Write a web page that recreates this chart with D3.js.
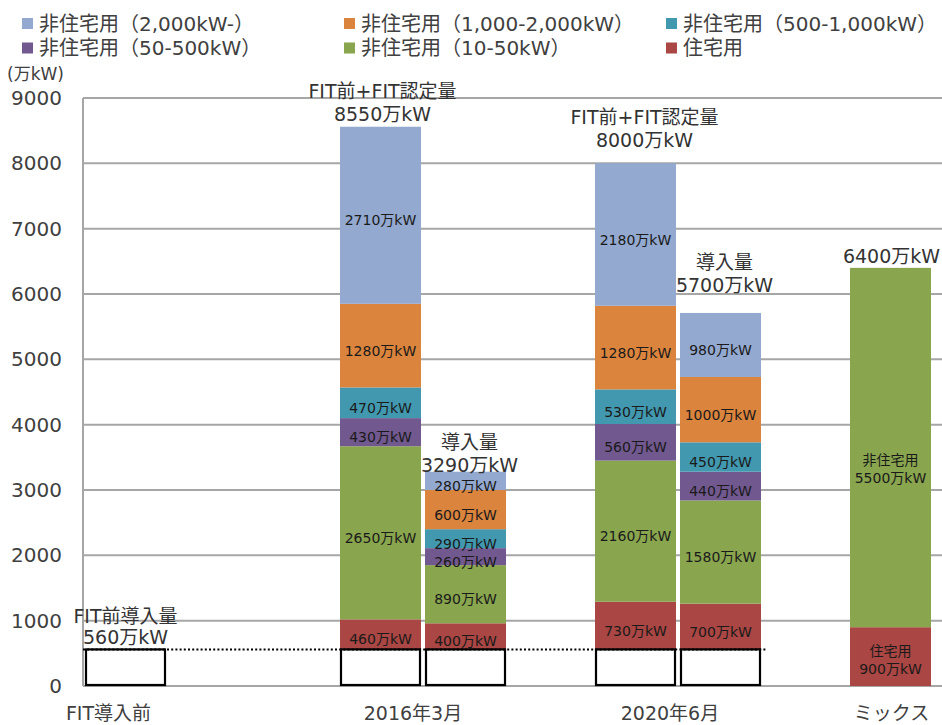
<!DOCTYPE html>
<html><head><meta charset="utf-8">
<script src="https://cdn.jsdelivr.net/npm/d3@7"></script>
<style>
html,body{margin:0;padding:0;background:#fff;}
svg{display:block;}
</style></head><body>
<svg id="chart" width="942" height="725"></svg>
<script>
// ---------------- data ----------------
const slots = ["FIT導入前","gapA","gapB","2016年3月 認定","2016年3月 導入","gapC","2020年6月 認定","2020年6月 導入","gapD","ミックス"];
const stackedBars = ["2016年3月 認定","2016年3月 導入","2020年6月 認定","2020年6月 導入"];
const preFitBars = ["FIT導入前","2016年3月 認定","2016年3月 導入","2020年6月 認定","2020年6月 導入"];
const preFitValue = 560;
const seriesNames = ["住宅用","非住宅用（10-50kW）","非住宅用（50-500kW）","非住宅用（500-1,000kW）","非住宅用（1,000-2,000kW）","非住宅用（2,000kW-）"];
const seriesColors = ["#AA4643","#89A54E","#71588F","#4198AF","#DB843D","#93A9CF"];
const residential      = [460, 400, 730, 700];
const nonRes10to50     = [2650, 890, 2160, 1580];
const nonRes50to500    = [430, 260, 560, 440];
const nonRes500to1000  = [470, 290, 530, 450];
const nonRes1000to2000 = [1280, 600, 1280, 1000];
const nonRes2000plus   = [2710, 280, 2180, 980];
const mixBar = "ミックス";
const mixNames  = ["住宅用","非住宅用"];
const mixValues = [900, 5500];
const totalLabelTop   = ["FIT前+FIT認定量","導入量","FIT前+FIT認定量","導入量"];
const totalLabelValue = ["8550万kW","3290万kW","8000万kW","5700万kW"];
const mixTotalLabel = "6400万kW";
const preFitLabel = ["FIT前導入量","560万kW"];
const categoryLabels = ["FIT導入前","2016年3月","2020年6月","ミックス"];
const categoryGroups = [["FIT導入前"],["2016年3月 認定","2016年3月 導入"],["2020年6月 認定","2020年6月 導入"],["ミックス"]];
const yTicks = [0,1000,2000,3000,4000,5000,6000,7000,8000,9000];
const yUnit = "(万kW)";
const legendOrder = [5,4,3,2,1,0];

// ---------------- layout ----------------
const FONT = '"DejaVu Sans","Noto Sans CJK JP",sans-serif';
const svg = d3.select("#chart").attr("font-family", FONT);
const plotLeft = 83, plotRight = 942;
const x = d3.scaleBand().domain(slots).range([85, 931]).paddingInner(4/85).paddingOuter(0);
const y = d3.scaleLinear().domain([0, 9000]).range([686, 98]);
const gridColor = "#A6A6A6";
const textColor = "#404040";

// gridlines
svg.append("g").selectAll("line").data(yTicks.filter(t => t > 0)).join("line")
  .attr("x1", plotLeft).attr("x2", plotRight)
  .attr("y1", d => y(d)).attr("y2", d => y(d))
  .attr("stroke", gridColor).attr("stroke-width", 2);

// y axis
const yAxis = svg.append("g").attr("transform", `translate(${plotLeft},0)`)
  .call(d3.axisLeft(y).tickValues(yTicks).tickSize(0).tickPadding(21).tickFormat(d3.format("d")));
yAxis.attr("font-family", FONT).attr("font-size", 20);
yAxis.select(".domain").remove();
yAxis.selectAll("text").attr("fill", textColor);
svg.append("line").attr("x1", plotLeft).attr("x2", plotLeft).attr("y1", y(9000)).attr("y2", y(0))
  .attr("stroke", gridColor).attr("stroke-width", 2);
svg.append("line").attr("x1", plotLeft).attr("x2", plotRight).attr("y1", y(0)).attr("y2", y(0))
  .attr("stroke", gridColor).attr("stroke-width", 2);

svg.append("text").attr("x", 7).attr("y", 74).attr("dominant-baseline", "central")
  .attr("font-size", 17).attr("fill", textColor).text(yUnit);

// stacked bars
const seriesValues = [residential, nonRes10to50, nonRes50to500, nonRes500to1000, nonRes1000to2000, nonRes2000plus];
const table = stackedBars.map((b, i) => {
  const row = {bar: b};
  seriesNames.forEach((s, j) => row[s] = seriesValues[j][i]);
  return row;
});
const stack = d3.stack().keys(seriesNames)(table);
const segs = [];
stack.forEach((layer, j) => layer.forEach(d => {
  segs.push({bar: d.data.bar, v0: d[0] + preFitValue, v1: d[1] + preFitValue,
             value: d.data[layer.key], color: seriesColors[j]});
}));
const mixTable = [{bar: mixBar}];
mixNames.forEach((n, j) => mixTable[0][n] = mixValues[j]);
const mixStack = d3.stack().keys(mixNames)(mixTable);
const mixSegs = mixStack.map((layer, j) => ({bar: mixBar, v0: layer[0][0], v1: layer[0][1],
  value: mixValues[j], name: mixNames[j], color: j === 0 ? seriesColors[0] : seriesColors[1]}));

svg.append("g").selectAll("rect").data(segs.concat(mixSegs)).join("rect")
  .attr("x", d => x(d.bar)).attr("width", x.bandwidth())
  .attr("y", d => y(d.v1)).attr("height", d => y(d.v0) - y(d.v1))
  .attr("fill", d => d.color);

// pre-FIT white boxes
svg.append("g").selectAll("rect").data(preFitBars).join("rect")
  .attr("x", d => x(d) + 1).attr("width", x.bandwidth() - 2)
  .attr("y", y(preFitValue)).attr("height", y(0) - y(preFitValue) - 1)
  .attr("fill", "#fff").attr("stroke", "#000").attr("stroke-width", 2.2);

// dotted line at pre-FIT level
svg.append("line").attr("x1", plotLeft).attr("x2", x("2020年6月 導入") + x.bandwidth() + 5)
  .attr("y1", y(preFitValue)).attr("y2", y(preFitValue))
  .attr("stroke", "#000").attr("stroke-width", 2).attr("stroke-dasharray", "2,2.2");

// segment labels
svg.append("g").selectAll("text").data(segs).join("text")
  .attr("x", d => x(d.bar) + x.bandwidth() / 2)
  .attr("y", d => (y(d.v0) + y(d.v1)) / 2 + 5)
  .attr("text-anchor", "middle").attr("dominant-baseline", "central")
  .attr("font-size", 14).attr("fill", "#1a1a1a")
  .text(d => `${d.value}万kW`);
const mixLabelDy = [-6, 12];
mixSegs.forEach((d, j) => {
  const cx = x(d.bar) + x.bandwidth() / 2;
  const cy = (y(d.v0) + y(d.v1)) / 2 + mixLabelDy[j];
  const t = svg.append("text").attr("text-anchor", "middle").attr("font-size", 14).attr("fill", "#1a1a1a");
  t.append("tspan").attr("x", cx).attr("y", cy).attr("dominant-baseline", "central").text(d.name);
  t.append("tspan").attr("x", cx).attr("y", cy + 18).attr("dominant-baseline", "central").text(`${d.value}万kW`);
});

// total labels
const barTotals = stackedBars.map((b, i) => preFitValue + seriesValues.reduce((s, arr) => s + arr[i], 0));
const totalDx = [2, 4, 9, 4];
const totalDy = [-13, -7, -23, -28];
stackedBars.forEach((b, i) => {
  const cx = x(b) + x.bandwidth() / 2 + totalDx[i];
  const cy = y(barTotals[i]) + totalDy[i];
  svg.append("text").attr("x", cx).attr("y", cy - 23).attr("text-anchor", "middle")
    .attr("dominant-baseline", "central").attr("font-size", 19).attr("fill", "#333").text(totalLabelTop[i]);
  svg.append("text").attr("x", cx).attr("y", cy).attr("text-anchor", "middle")
    .attr("dominant-baseline", "central").attr("font-size", 19).attr("fill", "#333").text(totalLabelValue[i]);
});
svg.append("text").attr("x", x(mixBar) + x.bandwidth() / 2 + 1)
  .attr("y", y(d3.sum(mixValues)) - 12).attr("text-anchor", "middle")
  .attr("dominant-baseline", "central").attr("font-size", 19).attr("fill", "#333").text(mixTotalLabel);

// pre-FIT label
const pfx = x("FIT導入前") + x.bandwidth() / 2;
svg.append("text").attr("x", pfx).attr("y", y(preFitValue) - 33).attr("text-anchor", "middle")
  .attr("dominant-baseline", "central").attr("font-size", 19).attr("fill", "#333").text(preFitLabel[0]);
svg.append("text").attr("x", pfx).attr("y", y(preFitValue) - 12).attr("text-anchor", "middle")
  .attr("dominant-baseline", "central").attr("font-size", 19).attr("fill", "#333").text(preFitLabel[1]);

// category labels
const catDx = [-17, -10, -8, 1];
categoryGroups.forEach((g, i) => {
  const x0 = x(g[0]), x1 = x(g[g.length - 1]) + x.bandwidth();
  svg.append("text").attr("x", (x0 + x1) / 2 + catDx[i]).attr("y", 713)
    .attr("text-anchor", "middle").attr("dominant-baseline", "central")
    .attr("font-size", 19).attr("fill", textColor).text(categoryLabels[i]);
});

// legend
const legendCols = [22, 344, 666];
const legendRows = [23.5, 48];
legendOrder.forEach((si, k) => {
  const col = k % 3, row = Math.floor(k / 3);
  const lx = legendCols[col], ly = legendRows[row];
  svg.append("rect").attr("x", lx).attr("y", ly - 5.5).attr("width", 11).attr("height", 11)
    .attr("fill", seriesColors[si]);
  svg.append("text").attr("x", lx + 17).attr("y", ly).attr("dominant-baseline", "central")
    .attr("font-size", 20).attr("fill", textColor).text(seriesNames[si]);
});
</script>
</body></html>
